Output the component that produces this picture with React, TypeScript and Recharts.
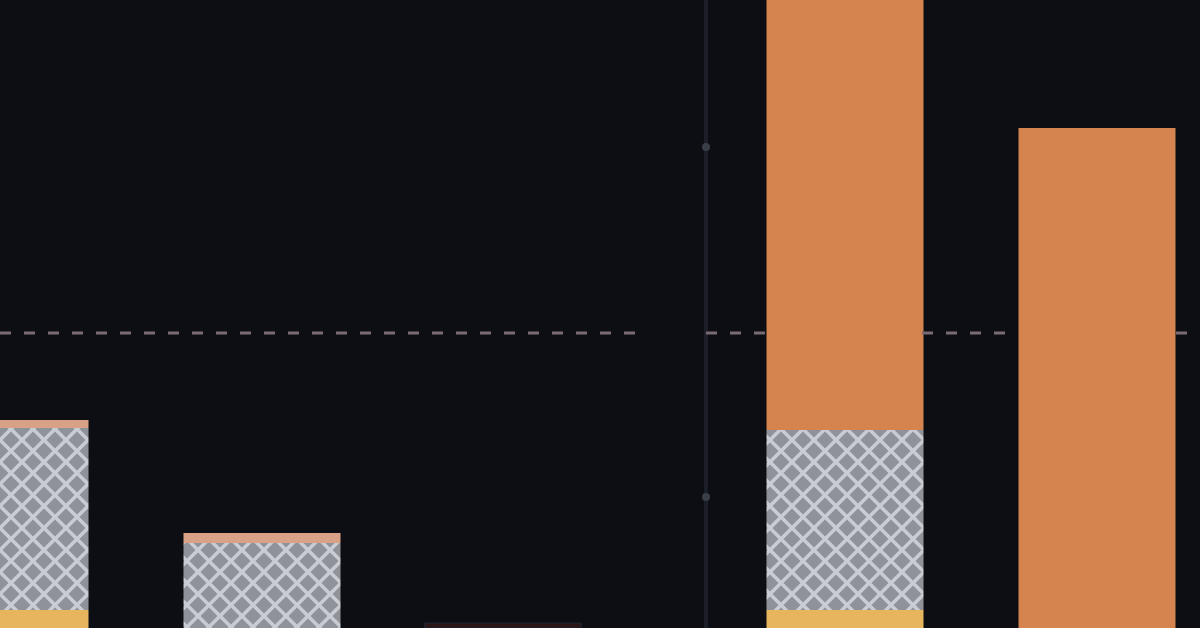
import { BarChart, Bar, XAxis, YAxis, Cell, ReferenceLine, ReferenceDot } from 'recharts'

// bar centres along the x scale (cropped view, so first bar is cut at the left)
const positions = [10, 262, 503, 845, 1097]
// stacked segments, bottom to top
const baseValues = [18, 0, 0, 18, 0]
const hatchValues = [182, 85, 0, 180, 0]
const topValues = [8, 10, 5, 470, 500]

const markerLevels = [481, 131]
const dashLevel = 295
const dividerX = 706
// visible stretches of the dashed level line (it runs behind the bars)
const dashSpans: [number, number][] = [[0, 645], [706, 768], [922, 1018], [1176, 1200]]

const data = positions.map((x, i) => ({
  x,
  base: baseValues[i],
  hatch: hatchValues[i],
  top: topValues[i],
}))

const BG = '#0c0e14'
const ORANGE = '#d5834f'
const CAP = '#d9a286'
const YELLOW = '#e7b55e'

export default function App() {
  return (
    <div style={{ position: 'fixed', top: 0, left: 0, width: 1200, height: 628, background: BG, overflow: 'hidden' }}>
      <BarChart width={1200} height={628} data={data} margin={{ top: 0, right: 0, bottom: 0, left: 0 }} barGap={0}>
        <defs>
          <pattern id="cross" patternUnits="userSpaceOnUse" width={22} height={22}>
            <rect width={22} height={22} fill="#8f9399" />
            <path d="M0,0 L22,22 M22,0 L0,22" stroke="#c9ccd2" strokeWidth={3.5} />
          </pattern>
        </defs>
        <XAxis type="number" dataKey="x" domain={[0, 1200]} hide allowDataOverflow />
        <YAxis type="number" domain={[0, 628]} hide allowDataOverflow />
        <ReferenceLine x={dividerX} stroke="#1c1f28" strokeWidth={4} />
        {dashSpans.map(([a, b]) => (
          <ReferenceLine
            key={a}
            segment={[{ x: a, y: dashLevel }, { x: b, y: dashLevel }]}
            stroke="#7a6a71"
            strokeWidth={3}
            strokeDasharray="11 13"
          />
        ))}
        {markerLevels.map(v => (
          <ReferenceDot key={v} x={dividerX} y={v} r={4} fill="#3a3e48" stroke="none" />
        ))}
        <Bar dataKey="base" stackId="s" fill={YELLOW} barSize={157} isAnimationActive={false} />
        <Bar dataKey="hatch" stackId="s" fill="url(#cross)" barSize={157} isAnimationActive={false} />
        <Bar dataKey="top" stackId="s" fill={ORANGE} barSize={157} isAnimationActive={false}>
          {data.map((d, i) => (
            <Cell
              key={d.x}
              fill={i === 2 ? '#2a1519' : d.hatch > 0 && d.top < 20 ? CAP : ORANGE}
              stroke={i === 2 ? '#1d2233' : 'none'}
            />
          ))}
        </Bar>
      </BarChart>
    </div>
  )
}
